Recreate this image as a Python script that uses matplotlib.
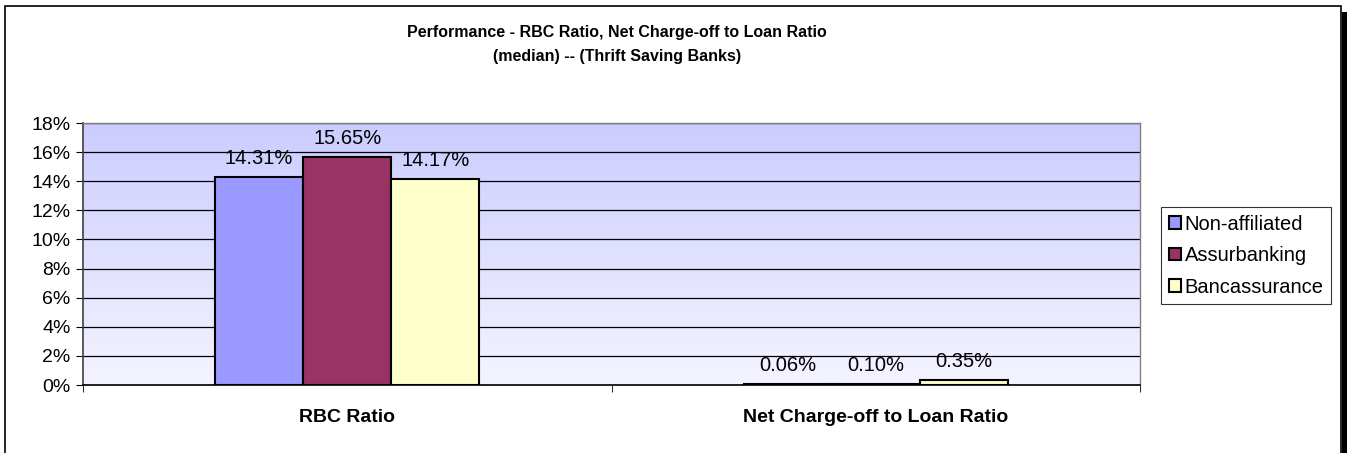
import numpy as np
import matplotlib
matplotlib.use("Agg")
import matplotlib.pyplot as plt
from matplotlib.patches import Rectangle

# median values per group, in percent
categories = ["RBC Ratio", "Net Charge-off to Loan Ratio"]
series_names = ["Non-affiliated", "Assurbanking", "Bancassurance"]
non_affiliated = [14.31, 0.06]
assurbanking = [15.65, 0.10]
bancassurance = [14.17, 0.35]
series_colors = ["#9999ff", "#993366", "#ffffcc"]
y_ticks = [0, 2, 4, 6, 8, 10, 12, 14, 16, 18]

W, H = 1351, 453
fig = plt.figure(figsize=(W / 100, H / 100), dpi=100)
plt.rcParams['font.family'] = ['Liberation Sans', 'DejaVu Sans']

# outer chart frame with the dark shadow on the right
fig.patches.append(Rectangle((5 / W, -0.01), 1336 / W, (H - 6) / H + 0.01,
                             transform=fig.transFigure, fill=False,
                             edgecolor="black", linewidth=1.2))
fig.patches.append(Rectangle((1342 / W, -0.01), 5 / W, (H - 12) / H + 0.01,
                             transform=fig.transFigure, facecolor="black",
                             edgecolor="none"))

left, top, right, bottom = 83, 123, 1140, 385
ax = fig.add_axes([left / W, (H - bottom) / H, (right - left) / W,
                   (bottom - top) / H])

# gradient fill of the plot area
grad = np.linspace(0, 1, 256).reshape(-1, 1)
top_c = np.array([204, 204, 255]) / 255
bot_c = np.array([244, 244, 255]) / 255
img = top_c + (bot_c - top_c) * grad
img = img.reshape(256, 1, 3)
ax.imshow(img, extent=[-0.5, 1.5, 0, 18], aspect="auto", zorder=0,
          origin="upper")

x = np.arange(len(categories))
width = 0.5 / 3
all_series = [non_affiliated, assurbanking, bancassurance]
for i, (vals, name, col) in enumerate(zip(all_series, series_names,
                                          series_colors)):
    pos = x + (i - 1) * width
    bars = ax.bar(pos, vals, width, color=col, edgecolor="black",
                  linewidth=1.5, label=name, zorder=3)
    for b, v in zip(bars, vals):
        ax.annotate("%.2f%%" % v, (b.get_x() + b.get_width() / 2, v),
                    xytext=(0, 6.5), textcoords="offset points",
                    ha="center", va="bottom", fontsize=14.5, zorder=4)

ax.set_xlim(-0.5, 1.5)
ax.set_ylim(0, 18)
ax.set_yticks(y_ticks)
ax.set_yticklabels(["%d%%" % t for t in y_ticks], fontsize=14)
ax.yaxis.grid(True, color="black", linewidth=0.9, zorder=1)
ax.set_axisbelow(True)

# category labels at centres, tick marks on the boundaries
ax.set_xticks(x)
ax.set_xticklabels(categories, fontsize=14, fontweight="bold")
ax.tick_params(axis="x", length=0, pad=17)
ax.set_xticks([-0.5, 0.5, 1.5], minor=True)
ax.tick_params(axis="x", which="minor", length=5, direction="out",
               color="black")
ax.tick_params(axis="y", length=5, direction="out", color="black", pad=4)

for s in ["top", "right"]:
    ax.spines[s].set_color("#808080")
    ax.spines[s].set_linewidth(1.0)
ax.spines["left"].set_color("#404040")
ax.spines["bottom"].set_color("black")
ax.spines["left"].set_linewidth(1.2)
ax.spines["bottom"].set_linewidth(1.2)

fig.text(617 / W, 1 - 33 / H, "Performance - RBC Ratio, Net Charge-off to Loan Ratio",
         ha="center", va="center", fontsize=11.5, fontweight="bold")
fig.text(617 / W, 1 - 56 / H, "(median) -- (Thrift Saving Banks)",
         ha="center", va="center", fontsize=11.5, fontweight="bold")

leg = fig.legend(loc="upper left", bbox_to_anchor=(1161 / W, 1 - 207 / H),
                 fontsize=14.5, frameon=True, fancybox=False,
                 handlelength=0.6, handleheight=0.6, handletextpad=0.2,
                 borderpad=0.38, labelspacing=0.62, borderaxespad=0)
leg.get_frame().set_edgecolor("black")
leg.get_frame().set_linewidth(0.8)

fig.savefig("out.png", dpi=100)
